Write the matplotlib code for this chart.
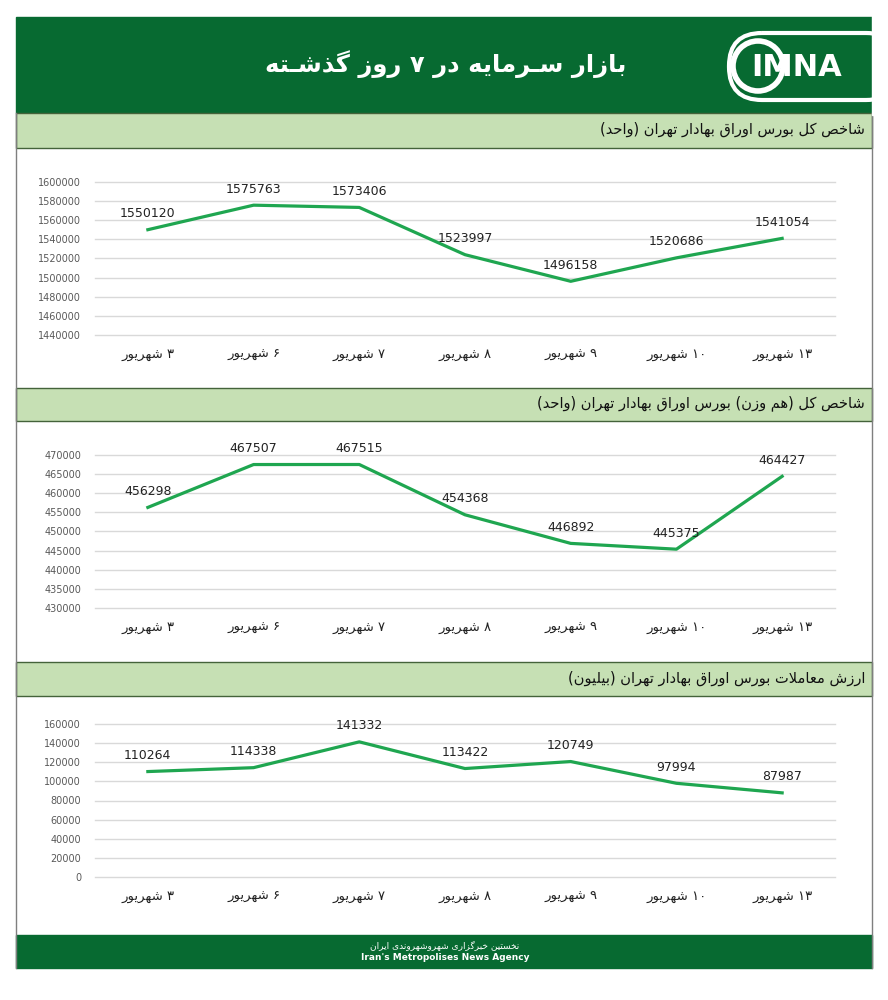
import matplotlib
matplotlib.use('Agg')
import matplotlib.pyplot as plt
from matplotlib.patches import Rectangle, FancyBboxPatch, Circle

plt.rcParams['font.family'] = ['DejaVu Sans']

# ---- data ----
days = ['۳', '۶', '۷', '۸', '۹', '۱۰', '۱۳']
month = 'شهریور'

index_total = [1550120, 1575763, 1573406, 1523997, 1496158, 1520686, 1541054]
index_equal = [456298, 467507, 467515, 454368, 446892, 445375, 464427]
trade_value = [110264, 114338, 141332, 113422, 120749, 97994, 87987]

title = 'بازار سـرمایه در ۷ روز گذشـته'
panel_titles = ['شاخص کل بورس اوراق بهادار تهران (واحد)',
                'شاخص کل (هم وزن) بورس اوراق بهادار تهران (واحد)',
                'ارزش معاملات بورس اوراق بهادار تهران (بیلیون)']
footer_fa = 'نخستین خبرگزاری شهروشهروندی ایران'
footer_en = "Iran's Metropolises News Agency"

# ---- simple Persian shaping + right-to-left ordering ----
FORMS = {
    'ا': '\uFE8D\uFE8E', 'آ': '\uFE81\uFE82', 'د': '\uFEA9\uFEAA', 'ذ': '\uFEAB\uFEAC',
    'ر': '\uFEAD\uFEAE', 'ز': '\uFEAF\uFEB0', 'ژ': '\uFB8A\uFB8B', 'و': '\uFEED\uFEEE',
    'ب': '\uFE8F\uFE90\uFE91\uFE92', 'پ': '\uFB56\uFB57\uFB58\uFB59',
    'ت': '\uFE95\uFE96\uFE97\uFE98', 'ث': '\uFE99\uFE9A\uFE9B\uFE9C',
    'ج': '\uFE9D\uFE9E\uFE9F\uFEA0', 'چ': '\uFB7A\uFB7B\uFB7C\uFB7D',
    'ح': '\uFEA1\uFEA2\uFEA3\uFEA4', 'خ': '\uFEA5\uFEA6\uFEA7\uFEA8',
    'س': '\uFEB1\uFEB2\uFEB3\uFEB4', 'ش': '\uFEB5\uFEB6\uFEB7\uFEB8',
    'ص': '\uFEB9\uFEBA\uFEBB\uFEBC', 'ض': '\uFEBD\uFEBE\uFEBF\uFEC0',
    'ط': '\uFEC1\uFEC2\uFEC3\uFEC4', 'ظ': '\uFEC5\uFEC6\uFEC7\uFEC8',
    'ع': '\uFEC9\uFECA\uFECB\uFECC', 'غ': '\uFECD\uFECE\uFECF\uFED0',
    'ف': '\uFED1\uFED2\uFED3\uFED4', 'ق': '\uFED5\uFED6\uFED7\uFED8',
    'ک': '\uFB8E\uFB8F\uFB90\uFB91', 'گ': '\uFB92\uFB93\uFB94\uFB95',
    'ل': '\uFEDD\uFEDE\uFEDF\uFEE0', 'م': '\uFEE1\uFEE2\uFEE3\uFEE4',
    'ن': '\uFEE5\uFEE6\uFEE7\uFEE8', 'ه': '\uFEE9\uFEEA\uFEEB\uFEEC',
    'ی': '\uFBFC\uFBFD\uFBFE\uFBFF', 'ـ': '\u0640\u0640\u0640\u0640',
}


def shape(s):
    out = []
    i = 0
    while i < len(s):
        c = s[i]
        if c not in FORMS:
            out.append(c)
            i += 1
            continue
        prev_joins = i > 0 and s[i - 1] in FORMS and len(FORMS[s[i - 1]]) == 4
        if c == 'ل' and i + 1 < len(s) and s[i + 1] == 'ا':
            out.append('\uFEFC' if prev_joins else '\uFEFB')
            i += 2
            continue
        f = FORMS[c]
        next_joins = len(f) == 4 and i + 1 < len(s) and s[i + 1] in FORMS
        if prev_joins and next_joins:
            out.append(f[3])
        elif prev_joins:
            out.append(f[1])
        elif next_joins:
            out.append(f[2])
        else:
            out.append(f[0])
        i += 1
    return ''.join(out)


def is_ltr(c):
    return c.isascii() and c.isalnum() or '\u06F0' <= c <= '\u06F9'


def fa(s):
    s = shape(s)
    runs, cur, cur_ltr = [], '', None
    for c in s:
        l = is_ltr(c)
        if cur and l != cur_ltr:
            runs.append((cur, cur_ltr))
            cur = ''
        cur += c
        cur_ltr = l
    runs.append((cur, cur_ltr))
    mirror = {'(': ')', ')': '('}
    vis = ''
    for txt, l in reversed(runs):
        vis += txt if l else ''.join(mirror.get(c, c) for c in reversed(txt))
    return vis


# ---- figure ----
W, H = 888, 1000
fig = plt.figure(figsize=(W / 100, H / 100), dpi=100)
fig.patch.set_facecolor('white')

bg = fig.add_axes([0, 0, 1, 1], zorder=0)
bg.set_xlim(0, W)
bg.set_ylim(H, 0)
bg.axis('off')

dark = '#076a31'
light = '#c6e0b4'
L, R = 16, 872

bg.add_patch(Rectangle((L, 17), R - L, 96, color=dark))
bg.add_patch(Rectangle((L, 935), R - L, 33, color=dark))
bars = [(113, 148), (388, 421), (662, 696)]
for (y0, y1), t in zip(bars, panel_titles):
    bg.add_patch(Rectangle((L, y0), R - L, y1 - y0, facecolor=light,
                           edgecolor='#44633a', lw=1))
    bg.text(R - 7, (y0 + y1) / 2 - 1, fa(t), ha='right', va='center',
            fontsize=10.5, color='#111111')
bg.plot([L, L], [113, 968], color='#7f7f7f', lw=1)
bg.plot([R, R], [113, 968], color='#7f7f7f', lw=1)

bg.text(446, 64, fa(title), ha='center', va='center', fontsize=17.5,
        fontweight='bold', color='white')
bg.text(445, 945, fa(footer_fa), ha='center', va='center', fontsize=6.5,
        color='white')
bg.text(445, 958, footer_en, ha='center', va='center', fontsize=6.5,
        fontweight='bold', color='white')

# logo
bg.add_patch(FancyBboxPatch((729, 33), 170, 67, boxstyle='round,pad=0,rounding_size=33',
                            fill=False, edgecolor='white', lw=3))
bg.add_patch(Rectangle((R, 15), 20, 100, color='white', zorder=3))
bg.add_patch(Circle((758, 66), 25, fill=False, edgecolor='white', lw=4))
bg.text(797, 67, 'IMNA', ha='center', va='center', fontsize=22,
        fontweight='bold', color='white')

# ---- charts ----
labels = [fa(d + ' ' + month) for d in days]
charts = [
    (index_total, 182, 335, 1440000, 1600000, 20000, 355),
    (index_equal, 455, 608, 430000, 470000, 5000, 628),
    (trade_value, 724, 877, 0, 160000, 20000, 897),
]
x0, x1 = 95, 835
for vals, ytop, ybot, lo, hi, step, ylab in charts:
    ax = fig.add_axes([x0 / W, 1 - ybot / H, (x1 - x0) / W, (ybot - ytop) / H], zorder=2)
    ax.patch.set_alpha(0)
    xs = list(range(len(vals)))
    ax.plot(xs, vals, color='#1fa650', lw=2.3, solid_joinstyle='round', zorder=3)
    for x, v in zip(xs, vals):
        ax.annotate(str(v), (x, v), xytext=(0, 16), textcoords='offset pixels',
                    ha='center', va='center', fontsize=9, color='#222222')
    ax.set_xlim(-0.5, len(vals) - 0.5)
    ax.set_ylim(lo, hi)
    ax.set_yticks(range(lo, hi + 1, step))
    ax.set_yticklabels([str(t) for t in range(lo, hi + 1, step)])
    ax.set_xticks(xs)
    ax.set_xticklabels(labels)
    ax.grid(axis='y', color='#d9d9d9', lw=1)
    for g in ax.get_ygridlines():
        g.set_clip_on(False)
    ax.set_axisbelow(True)
    for s in ax.spines.values():
        s.set_visible(False)
    ax.tick_params(axis='y', length=0, pad=10, labelsize=7, labelcolor='#595959')
    ax.tick_params(axis='x', length=0, pad=(ylab - ybot) * 0.72 - 5, labelsize=9.5,
                   labelcolor='#222222')

fig.savefig('out.png', dpi=100)
